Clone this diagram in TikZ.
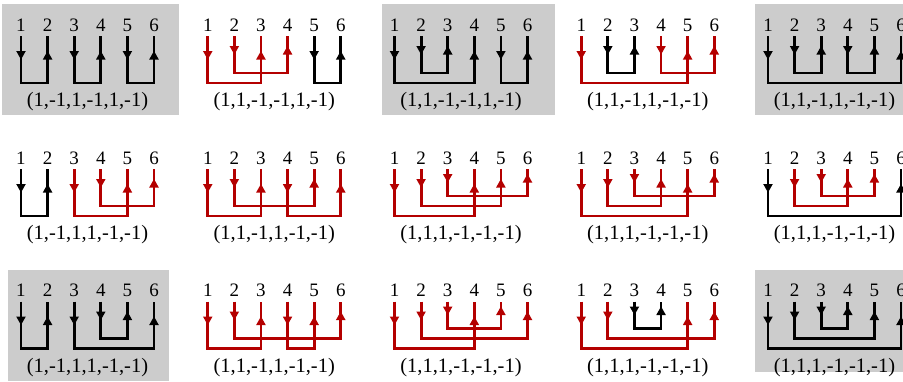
\documentclass[tikz,border=0pt]{standalone}
\usepackage{fontspec}
\setmainfont{Liberation Serif}
\usetikzlibrary{calc}
\definecolor{pred}{RGB}{180,0,0}
\definecolor{pgray}{RGB}{204,204,204}
\tikzset{
  dig/.style={font=\fontsize{19}{19}\selectfont, inner sep=0pt},
  lab/.style={font=\fontsize{20.5}{20.5}\selectfont, inner sep=0pt},
  conn/.style={line width=2.8pt, line join=miter},
  panelbg/.style={fill=pgray},
}
% #1 prefix, #2 x of digit 1, #3 y of digits, #4 label
\newcommand\panel[4]{%
  \foreach \k in {1,...,6} {\node[dig] (#1-\k) at ({#2+26.6*(\k-1)},#3) {\k};}
  \node[lab] (#1-L) at ({#2+66.5},{#3+77}) {#4};
}
% #1 prefix, #2 open, #3 close, #4 depth, #5 colour
\newcommand\bond[5]{%
  \draw[conn,#5] ($(#1-#2)+(0,11)$) -- ($(#1-#2)+(0,#4)$) -| ($(#1-#3)+(0,11)$);
  \fill[#5] ($(#1-#2)+(-4.8,{(11+#4)/2-8.5})$) -- ($(#1-#2)+(4.8,{(11+#4)/2-8.5})$) -- ($(#1-#2)+(0,{(11+#4)/2})$) -- cycle;
  \fill[#5] ($(#1-#3)+(-4.8,{(11+#4)/2})$) -- ($(#1-#3)+(4.8,{(11+#4)/2})$) -- ($(#1-#3)+(0,{(11+#4)/2-8.5})$) -- cycle;
}
\begin{document}
\begin{tikzpicture}[x=1pt,y=-1pt]
\useasboundingbox (0,0) rectangle (903,381);
\clip (0,0) rectangle (903,381);
% grey backgrounds
\fill[panelbg] (2,4) rectangle (179,115);
\fill[panelbg] (382,4) rectangle (555,115);
\fill[panelbg] (755,4) rectangle (903,115);
\fill[panelbg] (8,269.5) rectangle (169,381);
\fill[panelbg] (755,269.5) rectangle (903,372);
% row 1
\panel{a1}{21}{25}{(1,-1,1,-1,1,-1)}
\bond{a1}{1}{2}{58}{black}\bond{a1}{3}{4}{58}{black}\bond{a1}{5}{6}{58}{black}
\panel{a2}{207.75}{25}{(1,1,-1,-1,1,-1)}
\bond{a2}{1}{3}{58}{pred}\bond{a2}{2}{4}{48}{pred}\bond{a2}{5}{6}{58}{black}
\panel{a3}{394.5}{25}{(1,1,-1,-1,1,-1)}
\bond{a3}{1}{4}{58}{black}\bond{a3}{2}{3}{48}{black}\bond{a3}{5}{6}{58}{black}
\panel{a4}{581.25}{25}{(1,1,-1,1,-1,-1)}
\bond{a4}{1}{5}{58}{pred}\bond{a4}{4}{6}{48}{pred}\bond{a4}{2}{3}{48}{black}
\panel{a5}{768}{25}{(1,1,-1,1,-1,-1)}
\bond{a5}{1}{6}{58}{black}\bond{a5}{2}{3}{48}{black}\bond{a5}{4}{5}{48}{black}
% row 2
\panel{b1}{21}{158}{(1,-1,1,1,-1,-1)}
\bond{b1}{1}{2}{58}{black}\bond{b1}{3}{5}{58}{pred}\bond{b1}{4}{6}{48}{pred}
\panel{b2}{207.75}{158}{(1,1,-1,1,-1,-1)}
\bond{b2}{1}{3}{58}{pred}\bond{b2}{4}{6}{58}{pred}\bond{b2}{2}{5}{48}{pred}
\panel{b3}{394.5}{158}{(1,1,1,-1,-1,-1)}
\bond{b3}{1}{4}{58}{pred}\bond{b3}{2}{5}{48}{pred}\bond{b3}{3}{6}{38}{pred}
\panel{b4}{581.25}{158}{(1,1,1,-1,-1,-1)}
\bond{b4}{1}{5}{58}{pred}\bond{b4}{2}{4}{48}{pred}\bond{b4}{3}{6}{38}{pred}
\panel{b5}{768}{158}{(1,1,1,-1,-1,-1)}
\bond{b5}{1}{6}{58}{black}\bond{b5}{2}{4}{48}{pred}\bond{b5}{3}{5}{38}{pred}
% row 3
\panel{c1}{21}{290.5}{(1,-1,1,1,-1,-1)}
\bond{c1}{1}{2}{58}{black}\bond{c1}{3}{6}{58}{black}\bond{c1}{4}{5}{48}{black}
\panel{c2}{207.75}{290.5}{(1,1,-1,1,-1,-1)}
\bond{c2}{1}{3}{58}{pred}\bond{c2}{4}{5}{58}{pred}\bond{c2}{2}{6}{48}{pred}
\panel{c3}{394.5}{290.5}{(1,1,1,-1,-1,-1)}
\bond{c3}{1}{4}{58}{pred}\bond{c3}{2}{6}{48}{pred}\bond{c3}{3}{5}{38}{pred}
\panel{c4}{581.25}{290.5}{(1,1,1,-1,-1,-1)}
\bond{c4}{1}{5}{58}{pred}\bond{c4}{2}{6}{48}{pred}\bond{c4}{3}{4}{38}{black}
\panel{c5}{768}{290.5}{(1,1,1,-1,-1,-1)}
\bond{c5}{1}{6}{58}{black}\bond{c5}{2}{5}{48}{black}\bond{c5}{3}{4}{38}{black}
\end{tikzpicture}
\end{document}
